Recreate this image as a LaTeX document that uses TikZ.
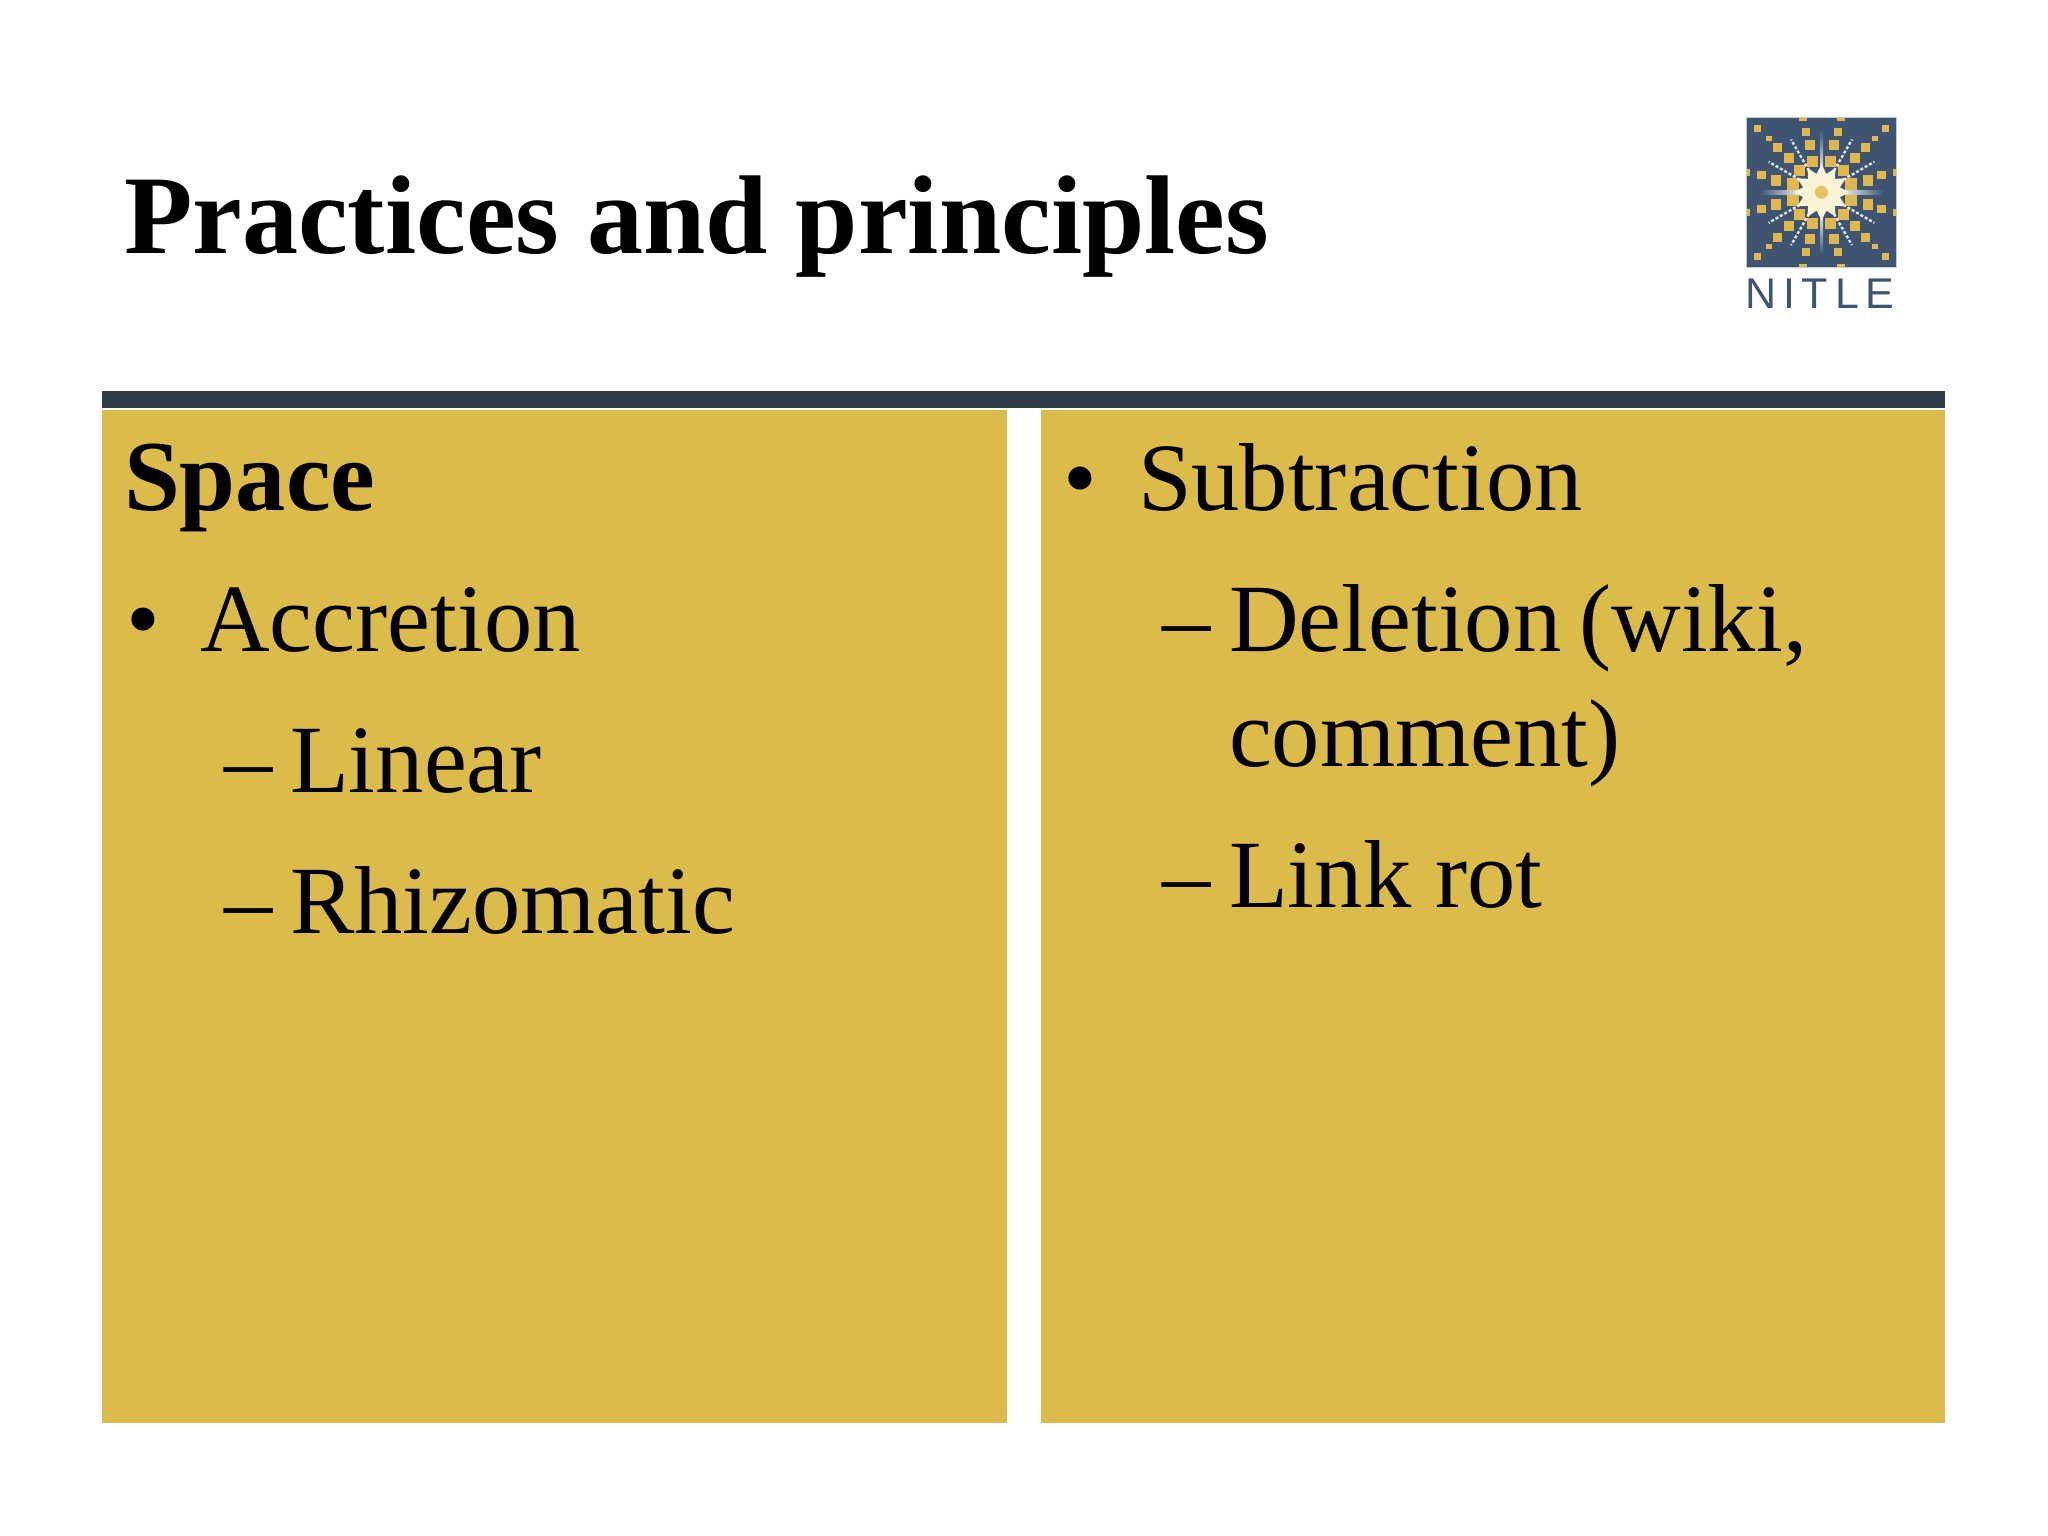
\documentclass[tikz,border=0pt]{standalone}
\usepackage{fontspec}
\setmainfont{Liberation Serif}
\newfontfamily\logofont[LetterSpace=16]{Liberation Sans}
\definecolor{panelgold}{HTML}{DBBB4A}
\definecolor{barslate}{HTML}{2F3C48}
\definecolor{logoblue}{HTML}{3E5470}
\definecolor{logogold}{HTML}{E0B84E}
\definecolor{logocream}{HTML}{FBF3D6}
\definecolor{logoedge}{HTML}{C3CCD6}
\tikzset{
  panel/.style={fill=panelgold,draw=none},
  txt/.style={anchor=base west,inner sep=0pt,outer sep=0pt,text=black,font=\fontsize{96.5}{96.5}\selectfont},
  boldtxt/.style={txt,font=\fontsize{100.5}{100.5}\selectfont\bfseries},
  titletxt/.style={txt,font=\fontsize{112}{112}\selectfont\bfseries},
  logotxt/.style={anchor=base west,inner sep=0pt,text=logoblue,font=\logofont\fontsize{43}{43}\selectfont},
  ray/.style={white,line width=2.4pt,dash pattern=on 3pt off 2pt,opacity=.85},
}
\begin{document}
\begin{tikzpicture}[x=1pt,y=-1pt]
\useasboundingbox (0,0) rectangle (2048,1536);
\fill[white] (0,0) rectangle (2048,1536);
% bar and panels
\fill[barslate] (102,391) rectangle (1945,408);
\fill[panel] (102,410) rectangle (1007,1423);
\fill[panel] (1041,410) rectangle (1945,1423);
% title
\node[titletxt] (title) at (124,253) {Practices and principles};
% left column
\node[boldtxt] (space) at (124,510) {Space};
\node[txt] (b1) at (126,651) {•};
\node[txt] (accretion) at (200,651) {Accretion};
\node[txt] (d1) at (224,792) {–};
\node[txt] (linear) at (290,792) {Linear};
\node[txt] (d2) at (224,933) {–};
\node[txt] (rhizomatic) at (290,933) {Rhizomatic};
% right column
\node[txt] (b2) at (1063,510) {•};
\node[txt] (subtraction) at (1138,510) {Subtraction};
\node[txt] (d3) at (1162,651) {–};
\node[txt] (deletion) at (1229,651) {Deletion\hspace{18pt}(wiki,};
\node[txt] (comment) at (1229,766) {comment)};
\node[txt] (d4) at (1162,907) {–};
\node[txt] (linkrot) at (1229,907) {Link rot};
% logo
\begin{scope}[shift={(1821.5,192.3)}]
  \fill[logoblue,draw=logoedge,line width=1.2pt] (-75,-75) rectangle (75,75);
  \foreach \sx in {-1,1} \foreach \sy in {-1,1} {
    \foreach \dx/\dy/\w/\h in {64/64/7/7, 53/54/6/5, 44/45/9/9, 33/34/10/10, 22/22/11/11, 9/31/11/11,
        12/47/10/10, 16/60/8/8, 19/73/8/3, 60/17/9/8, 73/20/3/7, 46/12/10/11, 29/8/12/12} {
      \fill[logogold] ({\sx*\dx-\w/2},{\sy*\dy-\h/2}) rectangle ++(\w,\h);
    }
  }
  \foreach \a in {30,60,120,150,210,240,300,330} {
    \draw[ray] (\a:20) -- (\a:61);
  }
  \shade[left color=logoblue,right color=white,middle color=logoedge] (-62,-2) rectangle (0,2);
  \shade[left color=white,right color=logoblue,middle color=logoedge] (0,-2) rectangle (62,2);
  \shade[top color=logoblue,bottom color=white,middle color=logoedge] (-1.5,-62) rectangle (1.5,0);
  \shade[top color=white,bottom color=logoblue,middle color=logoedge] (-1.5,0) rectangle (1.5,62);
  \fill[logocream] (0:28)
    \foreach \i in {1,...,23} { -- ({\i*15}:{mod(\i,2)==0 ? 28 : 19}) } -- cycle;
  \fill[logogold!85!logocream] (0,0) circle (6.5);
\end{scope}
\node[logotxt] (nitle) at (1745,308) {NITLE};
\end{tikzpicture}
\end{document}
